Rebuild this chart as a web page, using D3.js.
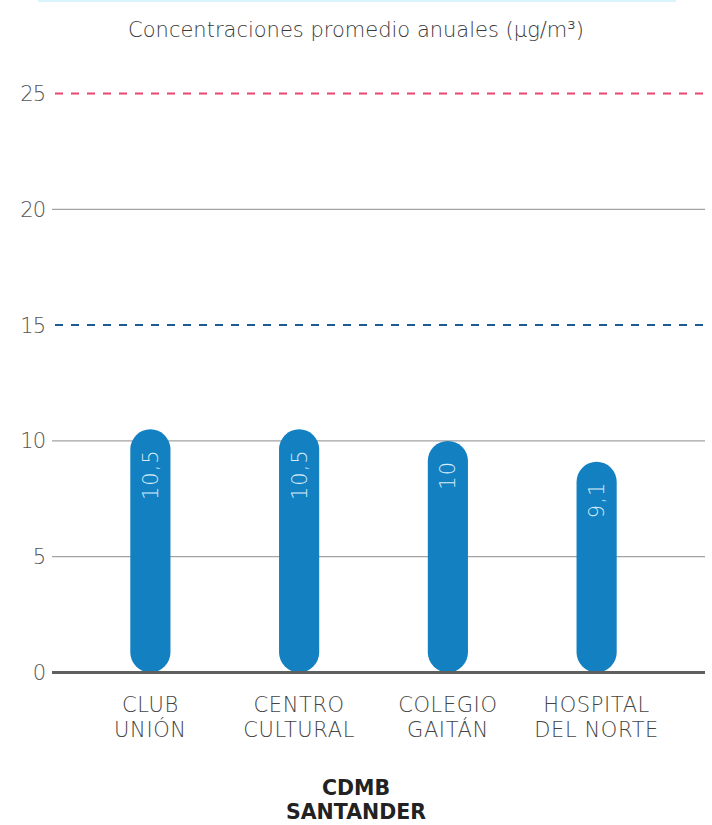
<!DOCTYPE html>
<html><head><meta charset="utf-8">
<script src="https://cdn.jsdelivr.net/npm/d3@7"></script>
<style>
body{margin:0;background:#fff;}
svg{display:block;font-family:"DejaVu Sans",sans-serif;}
</style></head>
<body><svg id="c" width="712" height="825"></svg>
<script>
const categories = [["CLUB","UNIÓN"],["CENTRO","CULTURAL"],["COLEGIO","GAITÁN"],["HOSPITAL","DEL NORTE"]];
const values = [10.5, 10.5, 10, 9.1];
const valueLabels = ["10,5","10,5","10","9,1"];
const yTicks = [0,5,10,15,20,25];
const refLines = [{v:25,color:"#e8456f"},{v:15,color:"#1d5d96"}];
const title = "Concentraciones promedio anuales (µg/m³)";
const footer = ["CDMB","SANTANDER"];

const svg = d3.select("#c");
const y = d3.scaleLinear().domain([0,25]).range([672.5,93.5]);
const x = d3.scaleBand().domain(d3.range(values.length)).range([76,671]).paddingInner(0.73).paddingOuter(0.365);

svg.append("line").attr("x1",38).attr("x2",676).attr("y1",1).attr("y2",1)
  .attr("stroke","#d9f4fb").attr("stroke-width",2);

svg.append("text").attr("x",356).attr("y",37).attr("text-anchor","middle")
  .attr("font-size",21).attr("font-weight",200).attr("fill","#3a3a3a").text(title);

const g = svg.append("g");
yTicks.filter(t=>t!==0).forEach(t=>{
  const ref = refLines.find(r=>r.v===t);
  const ln = g.append("line").attr("x1",52).attr("x2",705).attr("y1",y(t)).attr("y2",y(t));
  if(ref){ ln.attr("stroke",ref.color).attr("stroke-width",2).attr("stroke-dasharray","8,8").attr("stroke-dashoffset",-3); }
  else { ln.attr("stroke","#a3a3a3").attr("stroke-width",1.3); }
});
yTicks.forEach(t=>{
  g.append("text").attr("x",45).attr("y",y(t)).attr("dy","0.36em").attr("text-anchor","end")
   .attr("font-size",21).attr("font-weight",200).attr("letter-spacing",-1).attr("fill","#555").text(t);
});

const bw = x.bandwidth();
values.forEach((v,i)=>{
  const top = y(v), bot = y(0);
  g.append("rect").attr("x",x(i)).attr("y",top).attr("width",bw).attr("height",bot-top)
   .attr("rx",bw/2).attr("ry",bw/2).attr("fill","#1380c2");
  const cx = x(i)+bw/2;
  g.append("text").attr("transform",`translate(${cx},${top+20}) rotate(-90)`)
   .attr("text-anchor","end").attr("dy","0.36em").attr("font-size",21).attr("font-weight",200)
   .attr("letter-spacing",1).attr("fill","#d6ecf8").text(valueLabels[i]);
});

g.append("line").attr("x1",52).attr("x2",705).attr("y1",y(0)).attr("y2",y(0))
  .attr("stroke","#5f5f5f").attr("stroke-width",3);

categories.forEach((c,i)=>{
  const cx = x(i)+bw/2;
  c.forEach((s,j)=>{
    g.append("text").attr("x",cx).attr("y",712+j*25).attr("text-anchor","middle")
     .attr("font-size",21).attr("font-weight",200).attr("letter-spacing",0.6).attr("fill","#444").text(s);
  });
});

footer.forEach((s,j)=>{
  svg.append("text").attr("x",356).attr("y",795+j*24).attr("text-anchor","middle")
   .attr("font-size",20.5).attr("font-weight",700).attr("fill","#222").text(s);
});
</script></body></html>
